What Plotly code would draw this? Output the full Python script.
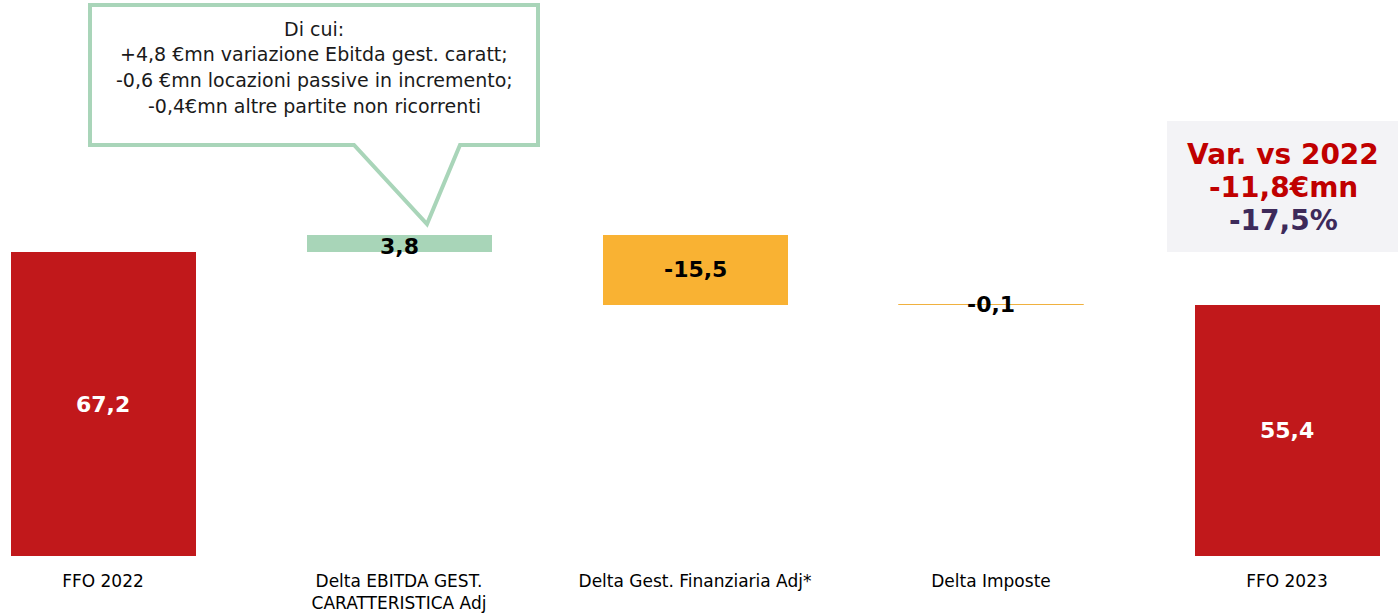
import plotly.graph_objects as go

categories = ["FFO 2022", "Delta EBITDA GEST.<br>CARATTERISTICA Adj",
              "Delta Gest. Finanziaria Adj*", "Delta Imposte", "FFO 2023"]
values = [67.2, 3.8, -15.5, -0.1, 55.4]
measures = ["absolute", "relative", "relative", "relative", "total"]
value_labels = ["67,2", "3,8", "-15,5", "-0,1", "55,4"]
bar_colors = ["#c1181b", "#a8d5b8", "#f9b233", "#f0b13f", "#c1181b"]
label_colors = ["white", "black", "black", "black", "white"]

callout_lines = ["Di cui:",
                 "+4,8 €mn variazione Ebitda gest. caratt;",
                 "-0,6 €mn locazioni passive in incremento;",
                 "-0,4€mn altre partite non ricorrenti"]
var_lines = [("Var. vs 2022", "#c00000"), ("-11,8€mn", "#c00000"), ("-17,5%", "#3d2a5a")]

W, H = 1398, 616
ML, MR, MT, MB = 0, 0, 0, 60
PW, PH = W - ML - MR, H - MT - MB

# waterfall bases / lengths
bases, lengths = [], []
run = 0.0
for v, m in zip(values, measures):
    if m in ("absolute", "total"):
        bases.append(0.0); lengths.append(v); run = v
    else:
        bases.append(run); lengths.append(v); run += v

xs = list(range(len(categories)))
fig = go.Figure()
fig.add_trace(go.Bar(
    x=xs, y=lengths, base=bases, width=0.625,
    marker=dict(color=bar_colors, line=dict(color=bar_colors, width=[0, 0, 0, 1, 0])),
    hoverinfo="skip", showlegend=False,
))

label_dy = [0, 1.5, 0, -0.4, 0]
for i, (b, l, t, c) in enumerate(zip(bases, lengths, value_labels, label_colors)):
    fig.add_annotation(x=xs[i], y=b + l / 2, text=f"<b>{t}</b>", showarrow=False,
                       xanchor="center", yanchor="middle", yshift=-label_dy[i] * 2,
                       font=dict(family="DejaVu Sans", size=22, color=c),
                       xref="x", yref="y")

def px(x):
    return (x - ML) / PW

def py(y):
    return 1 - (y - MT) / PH

# callout shape
g = "#a9d5b9"
pts = [(90, 5), (538, 5), (538, 145), (460, 145), (427, 224), (354, 145), (90, 145)]
path = "M " + " L ".join(f"{px(a)},{py(b)}" for a, b in pts) + " Z"
fig.add_shape(type="path", path=path, xref="paper", yref="paper",
              line=dict(color=g, width=4), fillcolor="white", layer="above")
for k, line in enumerate(callout_lines):
    fig.add_annotation(x=px(314), y=py(29 + 25.5 * k), xref="paper", yref="paper",
                       xanchor="center", yanchor="middle",
                       text=line, showarrow=False,
                       font=dict(family="DejaVu Sans", size=19, color="#1a1a1a"))

# var box
fig.add_shape(type="rect", xref="paper", yref="paper",
              x0=px(1167), x1=px(1398), y0=py(121), y1=py(252),
              fillcolor="#f3f3f6", line=dict(width=0), layer="below")
for k, (line, col) in enumerate(var_lines):
    fig.add_annotation(x=px(1283), y=py(154 + 33 * k), xref="paper", yref="paper",
                       xanchor="center", yanchor="middle",
                       text=f"<b>{line}</b>", showarrow=False,
                       font=dict(family="DejaVu Sans", size=28, color=col))

fig.update_layout(
    width=W, height=H, margin=dict(l=ML, r=MR, t=MT, b=MB),
    paper_bgcolor="white", plot_bgcolor="white",
    xaxis=dict(tickmode="array", tickvals=xs, ticktext=categories,
               range=[-103 / 296, (W - 103) / 296], showgrid=False, zeroline=False,
               showline=False, ticks="", ticklabelstandoff=13,
               tickfont=dict(family="DejaVu Sans", size=17, color="black")),
    yaxis=dict(range=[0, PH / (304 / 67.2)], visible=False, showgrid=False, zeroline=False),
    bargap=0,
)
fig.write_html("out.html", config={"displayModeBar": False},
               post_script="document.body.style.margin='0';")
